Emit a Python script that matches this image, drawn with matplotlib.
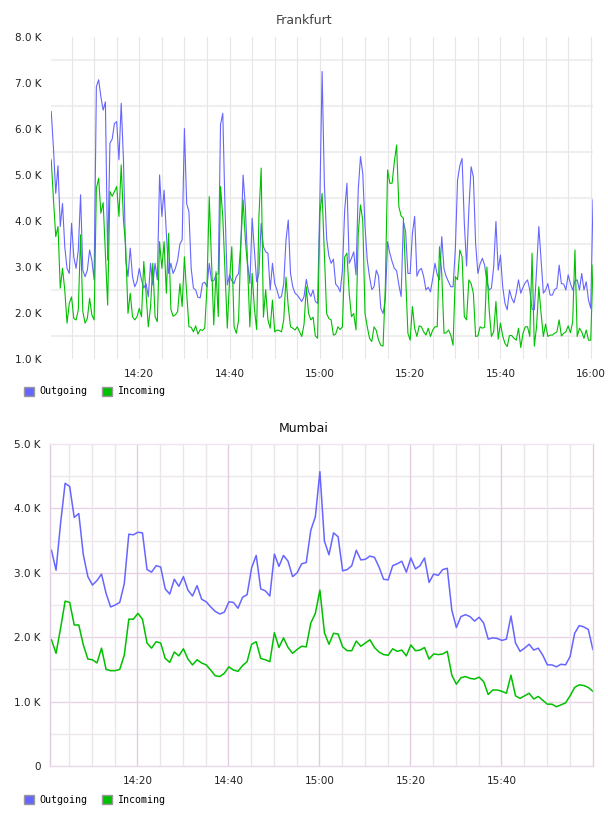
import numpy as np
import matplotlib
matplotlib.use('Agg')
import matplotlib.pyplot as plt
from matplotlib.patches import Patch
from matplotlib.ticker import FuncFormatter

# time axis is minutes after 14:00, traffic values are in thousands
FRA_START, FRA_STEP = 0.5, 0.5
fra_out = [
    6.38, 5.58, 4.60, 5.20, 3.88, 4.38, 3.44, 2.97, 2.86, 3.95,
    3.22, 2.97, 3.37, 4.57, 2.93, 2.79, 2.93, 3.37, 3.15, 2.72,
    6.92, 7.07, 6.70, 6.41, 6.59, 3.15, 5.69, 5.78, 6.12, 6.16,
    5.33, 6.56, 5.33, 3.15, 2.79, 3.41, 2.79, 2.57, 2.68, 2.97,
    2.72, 2.54, 2.64, 2.35, 3.08, 2.61, 3.08, 2.72, 5.00, 4.10,
    4.67, 3.73, 2.86, 3.08, 2.86, 2.97, 3.15, 3.50, 3.59, 6.01,
    4.38, 4.20, 2.97, 2.54, 2.50, 2.34, 2.33, 2.64, 2.67, 2.57,
    3.08, 2.70, 2.70, 2.83, 2.86, 6.10, 6.34, 4.24, 2.61, 2.83,
    2.70, 2.64, 2.79, 2.86, 3.51, 5.00, 4.30, 3.08, 2.64, 4.06,
    3.37, 2.68, 2.86, 3.95, 3.44, 3.33, 3.30, 2.50, 3.08, 2.64,
    2.50, 2.32, 2.36, 2.64, 3.59, 4.02, 2.86, 2.57, 2.43, 2.39,
    2.32, 2.25, 2.36, 2.73, 2.46, 2.36, 2.50, 2.25, 2.21, 4.46,
    7.25, 4.80, 3.62, 3.24, 3.08, 3.17, 2.63, 2.57, 2.46, 2.93,
    4.24, 4.82, 3.08, 3.19, 3.33, 2.83, 4.67, 5.40, 5.04, 3.88,
    3.15, 2.79, 2.51, 2.57, 2.93, 2.80, 2.10, 1.99, 2.28, 3.55,
    3.30, 3.12, 2.97, 2.92, 2.61, 2.36, 3.99, 3.77, 2.86, 2.86,
    3.73, 4.10, 2.80, 2.93, 2.97, 2.79, 2.50, 2.56, 2.46, 2.75,
    3.08, 2.83, 2.72, 3.66, 2.96, 2.79, 2.68, 2.57, 2.57, 3.37,
    4.89, 5.20, 5.36, 3.95, 3.02, 4.24, 5.18, 4.96, 3.51, 2.86,
    3.07, 3.19, 3.04, 2.68, 2.50, 2.54, 3.00, 3.99, 2.93, 3.26,
    2.57, 2.21, 2.07, 2.50, 2.32, 2.22, 2.43, 2.72, 2.43, 2.56,
    2.66, 2.72, 2.50, 2.08, 2.07, 2.93, 3.88, 3.15, 2.43, 2.50,
    2.64, 2.39, 2.39, 2.51, 2.54, 3.04, 2.64, 2.63, 2.50, 2.83,
    2.64, 2.50, 2.70, 2.72, 2.50, 2.86, 2.50, 2.68, 2.28, 2.10,
    4.46,
]
fra_in = [
    5.33, 4.46, 3.66, 3.88, 2.54, 2.97, 2.50, 1.78, 2.21, 2.35,
    1.88, 1.85, 2.07, 3.70, 2.03, 1.78, 1.88, 2.32, 1.96, 1.85,
    4.71, 4.93, 4.17, 4.40, 3.30, 2.17, 4.64, 4.54, 4.64, 4.75,
    4.10, 5.22, 4.02, 3.44, 1.99, 2.43, 1.92, 1.85, 1.92, 2.10,
    1.92, 3.12, 2.43, 1.70, 2.14, 3.08, 1.92, 1.81, 3.55, 2.97,
    3.55, 2.43, 3.73, 2.08, 1.93, 1.96, 2.03, 2.64, 2.14, 3.22,
    2.43, 1.70, 1.69, 1.59, 1.72, 1.54, 1.64, 1.62, 1.67, 2.57,
    4.53, 3.15, 1.74, 2.90, 1.92, 4.75, 4.09, 2.86, 1.67, 2.72,
    3.44, 1.70, 1.56, 1.85, 3.51, 4.46, 3.59, 3.00, 1.70, 2.86,
    2.10, 1.64, 4.09, 5.15, 1.91, 2.51, 1.85, 1.67, 2.28, 1.59,
    1.63, 1.62, 1.59, 1.85, 2.78, 2.14, 1.70, 1.67, 1.63, 1.70,
    1.59, 1.49, 1.76, 2.57, 1.99, 1.85, 1.91, 1.50, 1.45, 4.17,
    4.60, 3.31, 1.99, 1.88, 1.85, 1.52, 1.54, 1.70, 1.64, 1.70,
    3.22, 3.30, 2.43, 1.92, 1.99, 1.63, 3.73, 4.35, 4.02, 1.99,
    1.70, 1.45, 1.38, 1.70, 1.62, 1.41, 1.30, 1.28, 2.57, 5.11,
    4.82, 4.82, 5.29, 5.65, 4.31, 4.11, 4.06, 2.79, 1.56, 1.41,
    2.14, 1.67, 1.49, 1.72, 1.70, 1.59, 1.52, 1.67, 1.49, 1.63,
    1.70, 1.70, 3.44, 2.86, 1.56, 1.57, 1.63, 1.52, 1.30, 2.79,
    2.72, 3.37, 3.22, 1.92, 1.85, 2.72, 2.64, 2.43, 1.49, 1.50,
    1.70, 1.67, 1.69, 3.00, 2.07, 1.49, 1.59, 2.25, 1.43, 1.78,
    1.50, 1.34, 1.27, 1.51, 1.51, 1.45, 1.41, 1.67, 1.25, 1.56,
    1.70, 1.70, 1.49, 3.30, 1.28, 1.70, 2.57, 1.99, 1.49, 1.76,
    1.49, 1.52, 1.52, 1.56, 1.59, 1.85, 1.50, 1.56, 1.59, 1.72,
    1.57, 1.81, 3.37, 1.49, 1.67, 1.59, 1.45, 1.63, 1.41, 1.41,
    3.04,
]

MUM_START, MUM_STEP = 1.1, 1.0
mum_out = [
    3.35, 3.04, 3.77, 4.39, 4.34, 3.86, 3.92, 3.28, 2.94, 2.81,
    2.88, 2.98, 2.68, 2.47, 2.50, 2.54, 2.83, 3.60, 3.59, 3.63,
    3.62, 3.05, 3.01, 3.11, 3.09, 2.75, 2.67, 2.90, 2.79, 2.94,
    2.73, 2.64, 2.80, 2.59, 2.55, 2.47, 2.40, 2.36, 2.39, 2.55,
    2.54, 2.45, 2.62, 2.66, 3.08, 3.27, 2.75, 2.72, 2.64, 3.29,
    3.10, 3.27, 3.18, 2.94, 3.00, 3.14, 3.16, 3.66, 3.87, 4.57,
    3.49, 3.28, 3.62, 3.56, 3.03, 3.05, 3.11, 3.35, 3.20, 3.21,
    3.26, 3.24, 3.09, 2.90, 2.89, 3.11, 3.14, 3.18, 3.01, 3.23,
    3.06, 3.11, 3.23, 2.85, 2.98, 2.96, 3.05, 3.07, 2.42, 2.15,
    2.32, 2.35, 2.32, 2.25, 2.31, 2.22, 1.97, 1.99, 1.98, 1.95,
    1.97, 2.33, 1.91, 1.78, 1.83, 1.89, 1.80, 1.83, 1.72, 1.57,
    1.57, 1.54, 1.58, 1.57, 1.70, 2.06, 2.18, 2.16, 2.12, 1.81,
]
mum_in = [
    1.96, 1.75, 2.14, 2.56, 2.54, 2.19, 2.19, 1.88, 1.66, 1.65,
    1.60, 1.83, 1.50, 1.48, 1.48, 1.50, 1.72, 2.28, 2.28, 2.37,
    2.28, 1.91, 1.83, 1.93, 1.91, 1.67, 1.61, 1.77, 1.71, 1.82,
    1.66, 1.57, 1.65, 1.60, 1.57, 1.49, 1.40, 1.39, 1.44, 1.54,
    1.49, 1.47, 1.56, 1.62, 1.89, 1.93, 1.67, 1.65, 1.62, 2.07,
    1.84, 1.99, 1.84, 1.75, 1.81, 1.86, 1.85, 2.22, 2.37, 2.73,
    2.07, 1.89, 2.06, 2.05, 1.85, 1.79, 1.79, 1.94, 1.86, 1.91,
    1.96, 1.84, 1.77, 1.73, 1.72, 1.82, 1.78, 1.80, 1.71, 1.88,
    1.79, 1.80, 1.84, 1.66, 1.74, 1.73, 1.74, 1.78, 1.41, 1.27,
    1.37, 1.39, 1.36, 1.35, 1.38, 1.31, 1.11, 1.18, 1.18, 1.16,
    1.13, 1.41, 1.09, 1.05, 1.09, 1.13, 1.04, 1.08, 1.02, 0.96,
    0.96, 0.92, 0.95, 0.98, 1.09, 1.22, 1.26, 1.25, 1.22, 1.16,
]

OUT_COLOR = '#6666ff'
IN_COLOR = '#00c000'
TICK_FONT = dict(family='DejaVu Sans', size=7.5)

fra_t = FRA_START + FRA_STEP * np.arange(len(fra_out))
mum_t = MUM_START + MUM_STEP * np.arange(len(mum_out))


def kfmt(v, pos):
    return '0' if abs(v) < 1e-9 else f'{v:.1f} K'


def hhmm(m, pos):
    m = int(round(m))
    if m % 20:
        return ''
    return f'{14 + m // 60}:{m % 60:02d}'


def legend(y_px):
    handles = [Patch(facecolor=OUT_COLOR, edgecolor='#999999', label='Outgoing'),
               Patch(facecolor=IN_COLOR, edgecolor='#999999', label='Incoming')]
    fig.legend(handles=handles, loc='upper left', ncol=2, frameon=False,
               bbox_to_anchor=(24 / 608, 1 - y_px / 816),
               prop=dict(family='DejaVu Sans Mono', size=7.2),
               handlelength=1.0, handleheight=1.0, handletextpad=0.5,
               columnspacing=1.5, borderpad=0, borderaxespad=0)


fig = plt.figure(figsize=(6.08, 8.16), dpi=100)

# ── Frankfurt ────────────────────────────────────────────────
ax1 = fig.add_axes([51 / 608, 1 - 359 / 816, 542 / 608, 322 / 816])
for y in np.arange(1.5, 8, 1.0):
    ax1.axhline(y, color='#efefef', lw=1.5, zorder=0)
for m in range(5, 121, 5):
    ax1.axvline(m, color='#e6e6e6', lw=0.8, zorder=0)
ax1.plot(fra_t, fra_out, color=OUT_COLOR, lw=0.8)
ax1.plot(fra_t, fra_in, color=IN_COLOR, lw=0.8)
ax1.set_xlim(0.45, 120.5)
ax1.set_ylim(1.0, 8.0)
ax1.set_yticks(np.arange(1, 9))
ax1.set_xticks(np.arange(20, 121, 20))
ax1.yaxis.set_major_formatter(FuncFormatter(kfmt))
ax1.xaxis.set_major_formatter(FuncFormatter(hhmm))
for s in ax1.spines.values():
    s.set_visible(False)
ax1.tick_params(length=0, labelcolor='#222222', pad=7)
for lab in ax1.get_xticklabels() + ax1.get_yticklabels():
    lab.set_fontfamily(TICK_FONT['family'])
    lab.set_fontsize(TICK_FONT['size'])
fig.text(0.5, 1 - 20 / 816, 'Frankfurt', ha='center', va='center',
         fontsize=9, color='#444444')
legend(386.5)

# ── Mumbai ───────────────────────────────────────────────────
ax2 = fig.add_axes([50.3 / 608, 1 - 766 / 816, 543 / 608, 322 / 816])
for y in np.arange(0.5, 5, 1.0):
    ax2.axhline(y, color='#eee8ee', lw=1.0, zorder=0)
for y in range(1, 5):
    ax2.axhline(y, color='#e6d4e6', lw=1.0, zorder=0)
for m in range(5, 120, 5):
    major = m % 20 == 0
    ax2.axvline(m, color='#e2cce2' if major else '#ece6ec', lw=1.0, zorder=0)
ax2.plot(mum_t, mum_out, color=OUT_COLOR, lw=1.1)
ax2.plot(mum_t, mum_in, color=IN_COLOR, lw=1.1)
ax2.set_xlim(0.84, 120.2)
ax2.set_ylim(0, 5.0)
ax2.set_yticks(np.arange(0, 6))
ax2.set_xticks(np.arange(20, 101, 20))
ax2.yaxis.set_major_formatter(FuncFormatter(kfmt))
ax2.xaxis.set_major_formatter(FuncFormatter(hhmm))
ax2.spines['left'].set_color('#e0cce0')
ax2.spines['right'].set_color('#e4d0e4')
ax2.spines['top'].set_color('#f0e4f0')
ax2.spines['bottom'].set_color('#e8d8e8')
for s in ax2.spines.values():
    s.set_linewidth(1.0)
ax2.tick_params(length=0, labelcolor='#222222', pad=7)
for lab in ax2.get_xticklabels() + ax2.get_yticklabels():
    lab.set_fontfamily(TICK_FONT['family'])
    lab.set_fontsize(TICK_FONT['size'])
fig.text(0.5, 1 - 429 / 816, 'Mumbai', ha='center', va='center',
         fontsize=9, color='#111111')
legend(795)

fig.savefig('out.png', dpi=100)
